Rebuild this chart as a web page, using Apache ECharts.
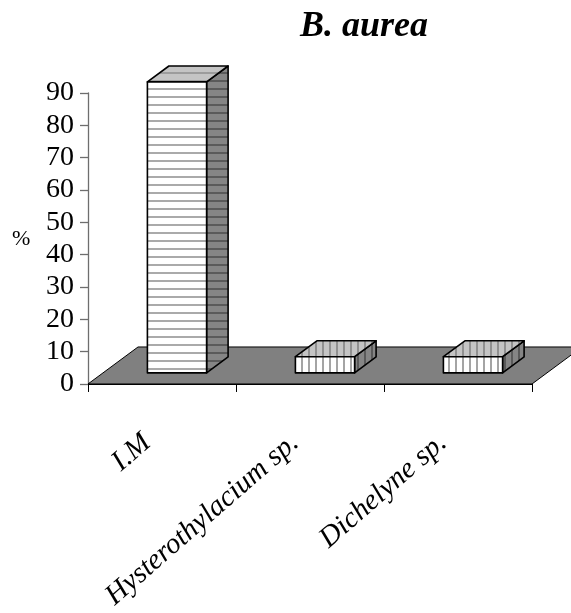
<!DOCTYPE html>
<html>
<head>
<meta charset="utf-8">
<script src="https://cdn.jsdelivr.net/npm/echarts@6/dist/echarts.min.js"></script>
<style>
  html, body { margin: 0; padding: 0; background: #ffffff; }
  #chart { width: 571px; height: 613px; }
</style>
</head>
<body>
<div id="chart"></div>
<script>
// ---- data ----
const categories = ['I.M', 'Hysterothylacium sp.', 'Dichelyne sp.'];
const percentValues = [90, 5, 5];
const yMin = 0, yMax = 90, yStep = 10;
const titleText = 'B. aurea';
const unitLabel = '%';

// ---- styling ----
// hatch direction used on each column
const columnHatch = ['horizontal', 'vertical', 'vertical'];
// oblique depth vector of the floor in pixels, and the depth slice the columns occupy
const FLOOR_DEPTH = [50, -37];
const COL_DEPTH_FROM = 0.3, COL_DEPTH_TO = 0.73;
const COL_WIDTH_RATIO = 0.4;
const SERIF = '"Liberation Serif", "Times New Roman", serif';

function stripes(base, line, dir, period, thick) {
  const c = document.createElement('canvas');
  c.width = period; c.height = period;
  const g = c.getContext('2d');
  g.fillStyle = base; g.fillRect(0, 0, period, period);
  g.fillStyle = line;
  if (dir === 'horizontal') g.fillRect(0, 0, period, thick);
  else g.fillRect(0, 0, thick, period);
  return { image: c, repeat: 'repeat' };
}

const hatchFills = {
  horizontal: {
    front: stripes('#ffffff', '#aaaaaa', 'horizontal', 8, 2),
    top: stripes('#c4c4c4', '#9c9c9c', 'horizontal', 8, 2),
    side: stripes('#858585', '#5a5a5a', 'horizontal', 8, 2)
  },
  vertical: {
    front: stripes('#ffffff', '#a4a4a4', 'vertical', 7, 2),
    top: stripes('#c4c4c4', '#909090', 'vertical', 7, 2),
    side: stripes('#858585', '#5a5a5a', 'vertical', 7, 2)
  }
};

const chart = echarts.init(document.getElementById('chart'), null, { renderer: 'canvas' });

function renderFloor(params, api) {
  const cs = params.coordSys;
  const y0 = api.coord([0, yMin])[1];
  const x0 = cs.x, x1 = cs.x + cs.width;
  const [dx, dy] = FLOOR_DEPTH;
  return {
    type: 'polygon',
    shape: { points: [[x0, y0], [x1, y0], [x1 + dx, y0 + dy], [x0 + dx, y0 + dy]] },
    style: { fill: '#808080', stroke: '#000000', lineWidth: 1 }
  };
}

function renderColumn(params, api) {
  const ci = api.value(0);
  const v = api.value(1);
  const base = api.coord([ci, yMin]);
  const top = api.coord([ci, v]);
  const bw = api.size([1, 0])[0] * COL_WIDTH_RATIO;
  const xl = base[0] - bw / 2, xr = base[0] + bw / 2;
  const yt = top[1], yb = base[1];
  const ax = FLOOR_DEPTH[0] * COL_DEPTH_FROM, ay = FLOOR_DEPTH[1] * COL_DEPTH_FROM;
  const bx = FLOOR_DEPTH[0] * COL_DEPTH_TO, by = FLOOR_DEPTH[1] * COL_DEPTH_TO;
  const fills = hatchFills[columnHatch[params.dataIndex]];
  const edge = { stroke: '#000000', lineWidth: 1.6, lineJoin: 'round' };
  return {
    type: 'group',
    children: [
      {
        type: 'polygon',
        shape: { points: [[xr + ax, yt + ay], [xr + bx, yt + by], [xr + bx, yb + by], [xr + ax, yb + ay]] },
        style: Object.assign({ fill: fills.side }, edge)
      },
      {
        type: 'polygon',
        shape: { points: [[xl + ax, yt + ay], [xr + ax, yt + ay], [xr + bx, yt + by], [xl + bx, yt + by]] },
        style: Object.assign({ fill: fills.top }, edge)
      },
      {
        type: 'rect',
        shape: { x: xl + ax, y: yt + ay, width: bw, height: yb - yt },
        style: Object.assign({ fill: fills.front }, edge)
      }
    ]
  };
}

chart.setOption({
  animation: false,
  backgroundColor: '#ffffff',
  title: {
    text: titleText,
    left: 295,
    top: 4,
    textStyle: { fontFamily: SERIF, fontSize: 36, fontWeight: 'bold', fontStyle: 'italic', color: '#000' }
  },
  grid: { left: 88, right: 39, top: 93, bottom: 229, containLabel: false },
  xAxis: {
    type: 'category',
    data: categories,
    boundaryGap: true,
    axisLine: { show: true, lineStyle: { color: '#000', width: 1 } },
    axisTick: { show: true, length: 8, lineStyle: { color: '#000', width: 1 } },
    axisLabel: {
      interval: 0,
      rotate: 41,
      margin: 42,
      padding: [0, 20, 0, 0],
      fontFamily: SERIF,
      fontSize: 29,
      fontStyle: 'italic',
      color: '#000'
    },
    splitLine: { show: false }
  },
  yAxis: {
    type: 'value',
    min: yMin,
    max: yMax,
    interval: yStep,
    axisLine: { show: true, lineStyle: { color: '#6e6e6e', width: 1.3 } },
    axisTick: { show: true, length: 8, lineStyle: { color: '#6e6e6e', width: 1.3 } },
    axisLabel: { margin: 14, fontFamily: SERIF, fontSize: 28, color: '#000' },
    splitLine: { show: false }
  },
  graphic: [{
    type: 'text',
    left: 12,
    top: 228,
    style: { text: unitLabel, font: '22px ' + SERIF, fill: '#000' }
  }],
  series: [
    {
      type: 'custom',
      name: 'floor',
      z: 1,
      silent: true,
      renderItem: renderFloor,
      data: [[0, 0]]
    },
    {
      type: 'custom',
      name: 'columns',
      z: 3,
      renderItem: renderColumn,
      encode: { x: 0, y: 1 },
      data: categories.map((c, i) => [i, percentValues[i]])
    }
  ]
});
</script>
</body>
</html>
